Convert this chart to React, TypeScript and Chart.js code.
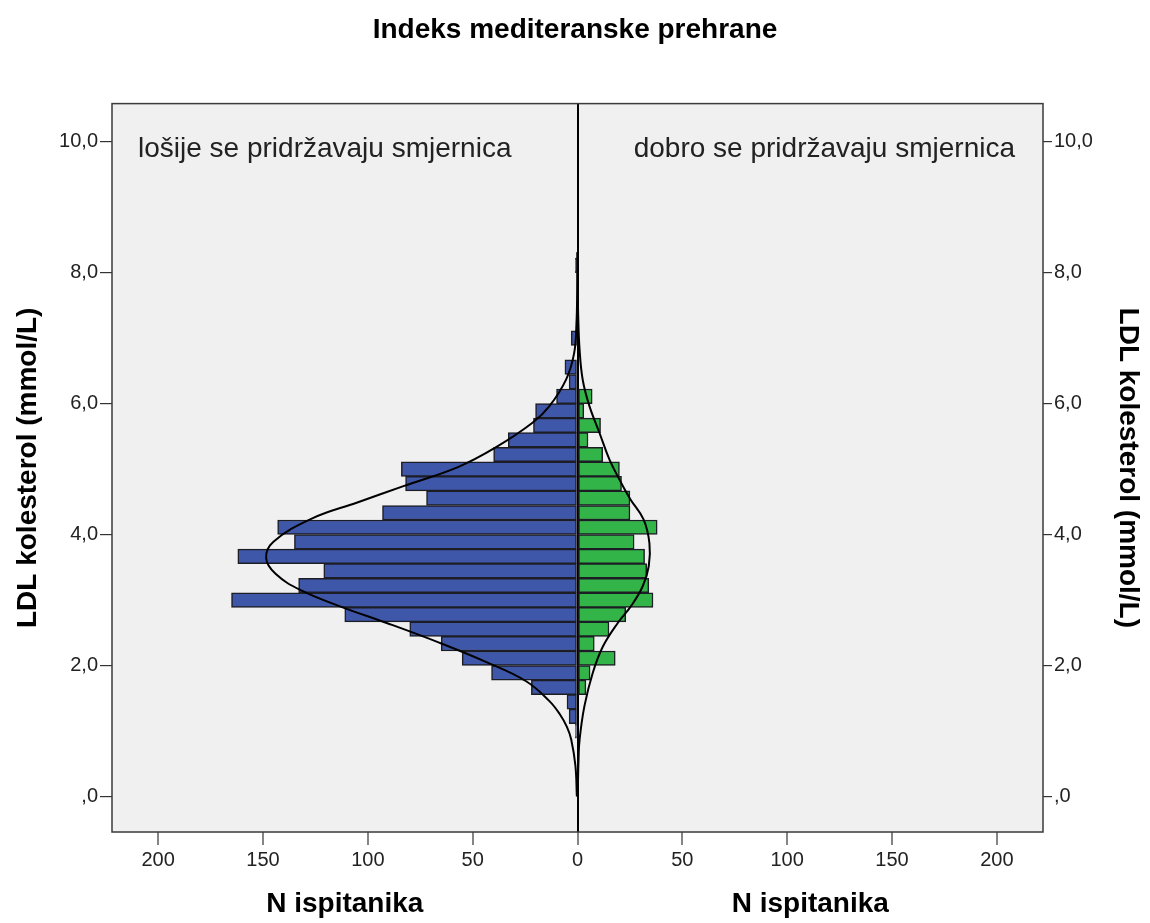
import React, { useEffect, useRef } from 'react';
import { Chart, registerables } from 'chart.js';

Chart.register(...registerables);

const chartTitle = 'Indeks mediteranske prehrane';
const leftPanelLabel = 'lošije se pridržavaju smjernica';
const rightPanelLabel = 'dobro se pridržavaju smjernica';
const yAxisTitle = 'LDL kolesterol (mmol/L)';
const xAxisTitle = 'N ispitanika';

// histogram bin centres (LDL, mmol/L), bin width ≈ 0.222
const ldlBins = [1.0, 1.222, 1.444, 1.667, 1.889, 2.111, 2.333, 2.556, 2.778, 3.0, 3.222, 3.444, 3.667, 3.889, 4.111, 4.333, 4.556, 4.778, 5.0, 5.222, 5.444, 5.667, 5.889, 6.111, 6.333, 6.556, 6.778, 7.0, 7.222, 7.444, 7.667, 7.889, 8.111];
// counts: poor adherence (left, blue)
const poorCounts = [1, 4, 5, 22, 41, 55, 65, 80, 111, 165, 133, 121, 162, 135, 143, 93, 72, 82, 84, 40, 33, 21, 20, 10, 4, 6, 0, 3, 0, 0, 0, 0, 1];
// counts: good adherence (right, green)
const goodCounts = [0, 0, 0, 4, 6, 18, 8, 15, 23, 36, 34, 33, 32, 27, 38, 25, 25, 21, 20, 12, 5, 11, 3, 7, 0, 0, 0, 0, 0, 0, 0, 0, 0];

// normal curves
const poorCurveLdl = [0.0, 0.47, 0.87, 1.06, 1.26, 1.46, 1.76, 2.06, 2.35, 2.65, 2.9, 3.15, 3.4, 3.64, 3.89, 4.24, 4.49, 4.74, 5.03, 5.33, 5.71, 5.96, 6.37, 6.77, 7.22, 7.71, 8.31];
const poorCurveN = [0.3, 1.0, 3.0, 5.0, 8.5, 13.5, 24.5, 44, 66, 91, 113, 132, 144, 148.5, 145, 127, 105, 83, 57, 39, 21.3, 13.4, 5.4, 1.6, 0.5, 0.15, 0];
const goodCurveLdl = [0.0, 0.57, 0.87, 1.38, 1.89, 2.29, 2.65, 2.91, 3.21, 3.52, 3.87, 4.23, 4.54, 4.84, 5.14, 5.55, 5.96, 6.36, 6.82, 7.32, 7.91, 8.31];
const goodCurveN = [0.1, 0.5, 1.0, 3.3, 7.3, 12.1, 19.2, 25.6, 31.1, 34, 34.3, 31.5, 25.2, 20, 15.3, 10.5, 5.7, 2.5, 1.0, 0.35, 0.08, 0];

const yTicks = [0, 2, 4, 6, 8, 10];
const xTicks = [-200, -150, -100, -50, 0, 50, 100, 150, 200];

const FONT = "'Liberation Sans', Arial, sans-serif";

const decorPlugin = {
  id: 'decor',
  beforeDraw(chart: any) {
    const { ctx, chartArea: a } = chart;
    ctx.save();
    ctx.fillStyle = '#ffffff';
    ctx.fillRect(0, 0, chart.width, chart.height);
    ctx.fillStyle = '#f0f0f0';
    ctx.fillRect(a.left, a.top, a.right - a.left, a.bottom - a.top);
    ctx.restore();
  },
  afterDraw(chart: any) {
    const { ctx, chartArea: a, scales } = chart;
    ctx.save();
    ctx.strokeStyle = '#3a3a3a';
    ctx.lineWidth = 1.5;
    ctx.strokeRect(a.left, a.top, a.right - a.left, a.bottom - a.top);
    ctx.fillStyle = '#222';
    ctx.font = `28px ${FONT}`;
    ctx.textBaseline = 'middle';
    ctx.textAlign = 'left';
    ctx.fillText(leftPanelLabel, a.left + 26, a.top + 46);
    ctx.textAlign = 'right';
    ctx.fillText(rightPanelLabel, a.right - 28, a.top + 46);
    ctx.font = `bold 28px ${FONT}`;
    ctx.textAlign = 'center';
    ctx.fillStyle = '#000';
    const zero = scales.x.getPixelForValue(0);
    ctx.fillText(xAxisTitle, (a.left + zero) / 2, 904);
    ctx.fillText(xAxisTitle, (zero + a.right) / 2, 904);
    ctx.restore();
  },
};

const fmtY = (v: number) => (v === 0 ? ',0' : v.toFixed(1).replace('.', ','));

export default function App() {
  const ref = useRef<HTMLCanvasElement | null>(null);
  useEffect(() => {
    if (!ref.current) return;
    const barCommon = {
      type: 'bar' as const,
      borderColor: '#1d1d25',
      borderWidth: 1.5,
      borderSkipped: false,
      barPercentage: 1,
      categoryPercentage: 1,
      grouped: false,
      order: 2,
    };
    const lineCommon = {
      type: 'line' as const,
      borderColor: '#000',
      borderWidth: 2,
      pointRadius: 0,
      tension: 0.4,
      fill: false,
      order: 0,
    };
    const yCommon = (position: string, width: number, tickLength: number, titlePad: number) => ({
      type: 'linear',
      position,
      min: -0.542,
      max: 10.58,
      offset: false,
      afterBuildTicks: (s: any) => {
        s.ticks = yTicks.map((v) => ({ value: v }));
      },
      afterFit: (s: any) => {
        s.width = width;
      },
      border: { display: false },
      grid: { drawOnChartArea: false, offset: false, color: '#333', tickLength, lineWidth: 1.2 },
      ticks: {
        callback: (v: any) => fmtY(Number(v)),
        font: { family: FONT, size: 20 },
        color: '#222',
        padding: 2,
      },
      title: {
        display: true,
        text: yAxisTitle,
        color: '#000',
        font: { family: FONT, size: 28, weight: 'bold' },
        padding: { top: titlePad, bottom: 0 },
      },
    });
    const chart = new Chart(ref.current, {
      type: 'bar',
      data: {
        datasets: [
          {
            ...barCommon,
            label: leftPanelLabel,
            data: ldlBins.map((y, i) => ({ y, x: poorCounts[i] ? -poorCounts[i] : null })),
            backgroundColor: '#3e57a9',
          } as any,
          {
            ...barCommon,
            label: rightPanelLabel,
            data: ldlBins.map((y, i) => ({ y, x: goodCounts[i] ? goodCounts[i] : null })),
            backgroundColor: '#33b449',
          } as any,
          {
            ...lineCommon,
            label: 'normal-left',
            data: poorCurveLdl.map((y, i) => ({ y, x: -poorCurveN[i] })),
          } as any,
          {
            ...lineCommon,
            label: 'normal-right',
            data: goodCurveLdl.map((y, i) => ({ y, x: goodCurveN[i] })),
          } as any,
        ],
      },
      options: {
        indexAxis: 'y',
        responsive: false,
        animation: false,
        events: [],
        layout: { padding: 0 },
        plugins: {
          legend: { display: false },
          tooltip: { enabled: false },
          title: {
            display: true,
            text: chartTitle,
            color: '#000',
            font: { family: FONT, size: 28, weight: 'bold' },
            padding: { top: 13, bottom: 57 },
          },
        },
        scales: {
          x: {
            type: 'linear',
            position: 'bottom',
            min: -222,
            max: 222,
            offset: false,
            afterBuildTicks: (s: any) => {
              s.ticks = xTicks.map((v) => ({ value: v }));
            },
            afterFit: (s: any) => {
              s.height = 91;
            },
            border: { display: false },
            grid: {
              drawOnChartArea: true,
              offset: false,
              color: (c: any) => (c.tick && c.tick.value === 0 ? '#000' : 'rgba(0,0,0,0)'),
              lineWidth: (c: any) => (c.tick && c.tick.value === 0 ? 2 : 0),
              tickColor: '#333',
              tickWidth: 1.2,
              tickLength: 13,
            },
            ticks: {
              callback: (v: any) => String(Math.abs(Number(v))),
              font: { family: FONT, size: 20 },
              color: '#222',
              padding: 3,
              maxRotation: 0,
              autoSkip: false,
            },
          },
          y: yCommon('left', 112, 12, 11),
          y2: yCommon('right', 107, 9, 5),
        },
      } as any,
      plugins: [decorPlugin],
    });
    return () => chart.destroy();
  }, []);
  return (
    <div style={{ position: 'fixed', left: 0, top: 0, width: 1150, height: 923, background: '#fff' }}>
      <canvas ref={ref} width={1150} height={923} style={{ display: 'block' }} />
    </div>
  );
}
